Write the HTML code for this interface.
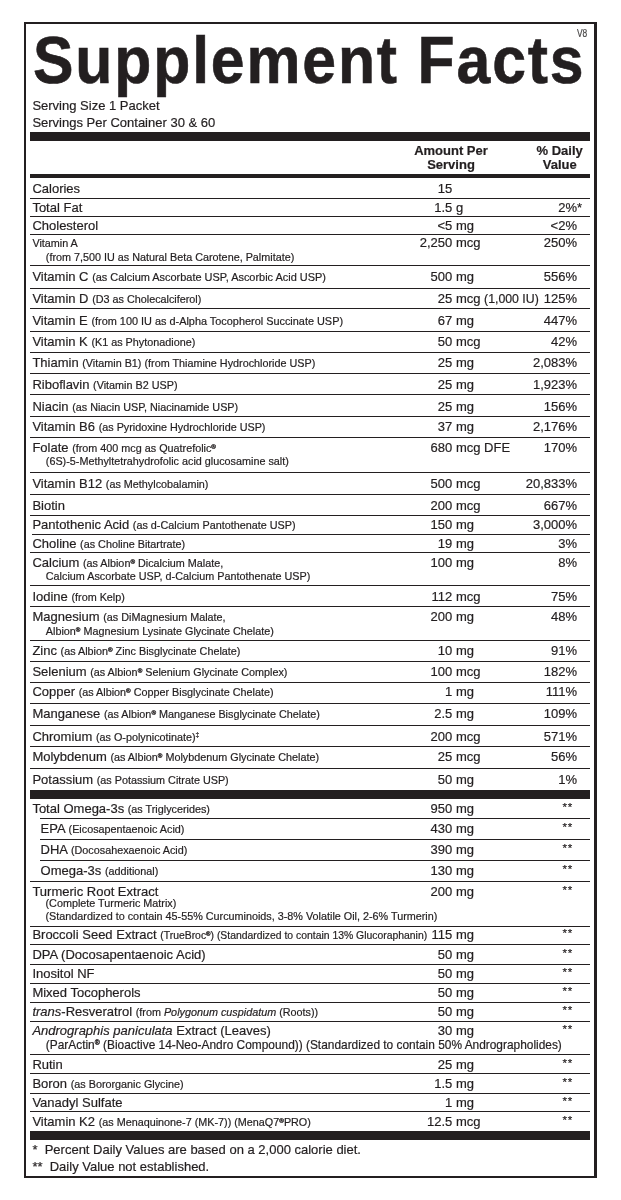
<!DOCTYPE html>
<html><head><meta charset="utf-8"><style>
html,body{margin:0;padding:0;background:#fff;width:621px;height:1200px;overflow:hidden;}
body{position:relative;font-family:"Liberation Sans",sans-serif;color:#231f20;}
.wrap{position:absolute;left:0;top:0;width:621px;height:1200px;will-change:transform;}
.t{position:absolute;white-space:nowrap;-webkit-text-stroke:0.2px #231f20;}
.r{position:absolute;}
.dg{font-size:62%;vertical-align:0;position:relative;top:-0.55em;line-height:0;}
.rg{font-size:58%;font-weight:bold;vertical-align:0;position:relative;top:-0.5em;line-height:0;-webkit-text-stroke:0.3px #231f20;}
.st{font-size:9px;position:relative;top:-3px;}
</style></head><body>
<div class="wrap">
<div class="r" style="left:23.5px;top:22px;width:573.5px;height:2px;background:#231f20"></div>
<div class="r" style="left:23.5px;top:22px;width:2.5px;height:1155.5px;background:#231f20"></div>
<div class="r" style="left:594px;top:22px;width:3px;height:1155.5px;background:#231f20"></div>
<div class="r" style="left:23.5px;top:1175.5px;width:573.5px;height:2.0px;background:#231f20"></div>
<div class="t" style="left:33.3px;top:27.12px;font-size:66px;line-height:66px;font-weight:bold;letter-spacing:2px;transform:scaleX(0.92);transform-origin:0 0;-webkit-text-stroke:0.6px #231f20;">Supplement Facts</div>
<div class="t" style="left:576.8px;top:28.11px;font-size:10.5px;line-height:10.5px;font-weight:normal;color:#555;transform:scaleX(0.8);transform-origin:0 0;">V8</div>
<div class="t" style="left:32.4px;top:99.49px;font-size:13px;line-height:13px;font-weight:normal;">Serving Size 1 Packet</div>
<div class="t" style="left:32.4px;top:115.99px;font-size:13px;line-height:13px;font-weight:normal;">Servings Per Container 30 &amp; 60</div>
<div class="r" style="left:30px;top:132px;width:560px;height:9px;background:#231f20"></div>
<div class="t" style="left:301px;width:300px;top:143.99px;font-size:13px;line-height:13px;font-weight:bold;text-align:center;">Amount Per</div>
<div class="t" style="left:301px;width:300px;top:157.79px;font-size:13px;line-height:13px;font-weight:bold;text-align:center;">Serving</div>
<div class="t" style="left:409.70000000000005px;width:300px;top:143.99px;font-size:13px;line-height:13px;font-weight:bold;text-align:center;">% Daily</div>
<div class="t" style="left:409.70000000000005px;width:300px;top:157.79px;font-size:13px;line-height:13px;font-weight:bold;text-align:center;">Value</div>
<div class="r" style="left:30px;top:174px;width:560px;height:4px;background:#231f20"></div>
<div class="t" style="left:32.4px;top:181.99px;font-size:13px;line-height:13px;font-weight:normal;">Calories</div>
<div class="t" style="right:168.70000000000005px;top:181.99px;font-size:13px;line-height:13px;font-weight:normal;text-align:right;">15</div>
<div class="r" style="left:30px;top:198px;width:560px;height:1px;background:#231f20"></div>
<div class="t" style="left:32.4px;top:200.99px;font-size:13px;line-height:13px;font-weight:normal;">Total Fat</div>
<div class="t" style="right:168.70000000000005px;top:200.99px;font-size:13px;line-height:13px;font-weight:normal;text-align:right;">1.5</div>
<div class="t" style="left:455.9px;top:200.99px;font-size:13px;line-height:13px;font-weight:normal;">g</div>
<div class="t" style="right:44px;top:200.99px;font-size:13px;line-height:13px;font-weight:normal;text-align:right;">2%<span style="position:absolute;left:100%;top:0">*</span></div>
<div class="r" style="left:30px;top:216px;width:560px;height:1px;background:#231f20"></div>
<div class="t" style="left:32.4px;top:218.99px;font-size:13px;line-height:13px;font-weight:normal;">Cholesterol</div>
<div class="t" style="right:168.70000000000005px;top:218.99px;font-size:13px;line-height:13px;font-weight:normal;text-align:right;">&lt;5</div>
<div class="t" style="left:455.9px;top:218.99px;font-size:13px;line-height:13px;font-weight:normal;">mg</div>
<div class="t" style="right:44px;top:218.99px;font-size:13px;line-height:13px;font-weight:normal;text-align:right;">&lt;2%</div>
<div class="r" style="left:30px;top:234px;width:560px;height:1px;background:#231f20"></div>
<div class="t" style="left:32.4px;top:238.36px;font-size:10.8px;line-height:10.8px;font-weight:normal;">Vitamin A</div>
<div class="t" style="left:45.8px;top:252.36px;font-size:10.8px;line-height:10.8px;font-weight:normal;">(from 7,500 IU as Natural Beta Carotene, Palmitate)</div>
<div class="t" style="right:168.70000000000005px;top:236.49px;font-size:13px;line-height:13px;font-weight:normal;text-align:right;">2,250</div>
<div class="t" style="left:455.9px;top:236.49px;font-size:13px;line-height:13px;font-weight:normal;">mcg</div>
<div class="t" style="right:44px;top:236.49px;font-size:13px;line-height:13px;font-weight:normal;text-align:right;">250%</div>
<div class="r" style="left:30px;top:265px;width:560px;height:1px;background:#231f20"></div>
<div class="t" style="left:32.4px;top:269.99px;font-size:13px;line-height:13px;font-weight:normal;">Vitamin C <span style="font-size:10.95px">(as Calcium Ascorbate USP, Ascorbic Acid USP)</span></div>
<div class="t" style="right:168.70000000000005px;top:269.99px;font-size:13px;line-height:13px;font-weight:normal;text-align:right;">500</div>
<div class="t" style="left:455.9px;top:269.99px;font-size:13px;line-height:13px;font-weight:normal;">mg</div>
<div class="t" style="right:44px;top:269.99px;font-size:13px;line-height:13px;font-weight:normal;text-align:right;">556%</div>
<div class="r" style="left:30px;top:288px;width:560px;height:1px;background:#231f20"></div>
<div class="t" style="left:32.4px;top:291.99px;font-size:13px;line-height:13px;font-weight:normal;">Vitamin D <span style="font-size:10.8px">(D3 as Cholecalciferol)</span></div>
<div class="t" style="right:168.70000000000005px;top:291.99px;font-size:13px;line-height:13px;font-weight:normal;text-align:right;">25</div>
<div class="t" style="left:455.9px;top:291.99px;font-size:13px;line-height:13px;font-weight:normal;">mcg <span style="font-size:12.3px">(1,000 IU)</span></div>
<div class="t" style="right:44px;top:291.99px;font-size:13px;line-height:13px;font-weight:normal;text-align:right;">125%</div>
<div class="r" style="left:30px;top:308px;width:560px;height:1px;background:#231f20"></div>
<div class="t" style="left:32.4px;top:313.99px;font-size:13px;line-height:13px;font-weight:normal;">Vitamin E <span style="font-size:10.9px">(from 100 IU as d-Alpha Tocopherol Succinate USP)</span></div>
<div class="t" style="right:168.70000000000005px;top:313.99px;font-size:13px;line-height:13px;font-weight:normal;text-align:right;">67</div>
<div class="t" style="left:455.9px;top:313.99px;font-size:13px;line-height:13px;font-weight:normal;">mg</div>
<div class="t" style="right:44px;top:313.99px;font-size:13px;line-height:13px;font-weight:normal;text-align:right;">447%</div>
<div class="r" style="left:30px;top:331px;width:560px;height:1px;background:#231f20"></div>
<div class="t" style="left:32.4px;top:334.99px;font-size:13px;line-height:13px;font-weight:normal;">Vitamin K <span style="font-size:10.8px">(K1 as Phytonadione)</span></div>
<div class="t" style="right:168.70000000000005px;top:334.99px;font-size:13px;line-height:13px;font-weight:normal;text-align:right;">50</div>
<div class="t" style="left:455.9px;top:334.99px;font-size:13px;line-height:13px;font-weight:normal;">mcg</div>
<div class="t" style="right:44px;top:334.99px;font-size:13px;line-height:13px;font-weight:normal;text-align:right;">42%</div>
<div class="r" style="left:30px;top:352px;width:560px;height:1px;background:#231f20"></div>
<div class="t" style="left:32.4px;top:355.99px;font-size:13px;line-height:13px;font-weight:normal;">Thiamin <span style="font-size:10.8px">(Vitamin B1) (from Thiamine Hydrochloride USP)</span></div>
<div class="t" style="right:168.70000000000005px;top:355.99px;font-size:13px;line-height:13px;font-weight:normal;text-align:right;">25</div>
<div class="t" style="left:455.9px;top:355.99px;font-size:13px;line-height:13px;font-weight:normal;">mg</div>
<div class="t" style="right:44px;top:355.99px;font-size:13px;line-height:13px;font-weight:normal;text-align:right;">2,083%</div>
<div class="r" style="left:30px;top:373px;width:560px;height:1px;background:#231f20"></div>
<div class="t" style="left:32.4px;top:377.99px;font-size:13px;line-height:13px;font-weight:normal;">Riboflavin <span style="font-size:10.8px">(Vitamin B2 USP)</span></div>
<div class="t" style="right:168.70000000000005px;top:377.99px;font-size:13px;line-height:13px;font-weight:normal;text-align:right;">25</div>
<div class="t" style="left:455.9px;top:377.99px;font-size:13px;line-height:13px;font-weight:normal;">mg</div>
<div class="t" style="right:44px;top:377.99px;font-size:13px;line-height:13px;font-weight:normal;text-align:right;">1,923%</div>
<div class="r" style="left:30px;top:394px;width:560px;height:1px;background:#231f20"></div>
<div class="t" style="left:32.4px;top:399.99px;font-size:13px;line-height:13px;font-weight:normal;">Niacin <span style="font-size:10.8px">(as Niacin USP, Niacinamide USP)</span></div>
<div class="t" style="right:168.70000000000005px;top:399.99px;font-size:13px;line-height:13px;font-weight:normal;text-align:right;">25</div>
<div class="t" style="left:455.9px;top:399.99px;font-size:13px;line-height:13px;font-weight:normal;">mg</div>
<div class="t" style="right:44px;top:399.99px;font-size:13px;line-height:13px;font-weight:normal;text-align:right;">156%</div>
<div class="r" style="left:30px;top:416px;width:560px;height:1px;background:#231f20"></div>
<div class="t" style="left:32.4px;top:419.99px;font-size:13px;line-height:13px;font-weight:normal;">Vitamin B6 <span style="font-size:10.8px">(as Pyridoxine Hydrochloride USP)</span></div>
<div class="t" style="right:168.70000000000005px;top:419.99px;font-size:13px;line-height:13px;font-weight:normal;text-align:right;">37</div>
<div class="t" style="left:455.9px;top:419.99px;font-size:13px;line-height:13px;font-weight:normal;">mg</div>
<div class="t" style="right:44px;top:419.99px;font-size:13px;line-height:13px;font-weight:normal;text-align:right;">2,176%</div>
<div class="r" style="left:30px;top:437px;width:560px;height:1px;background:#231f20"></div>
<div class="t" style="left:32.4px;top:440.99px;font-size:13px;line-height:13px;font-weight:normal;">Folate <span style="font-size:10.8px">(from 400 mcg as Quatrefolic<sup class="rg">&reg;</sup></span></div>
<div class="t" style="left:45.8px;top:455.86px;font-size:10.8px;line-height:10.8px;font-weight:normal;">(6S)-5-Methyltetrahydrofolic acid glucosamine salt)</div>
<div class="t" style="right:168.70000000000005px;top:440.99px;font-size:13px;line-height:13px;font-weight:normal;text-align:right;">680</div>
<div class="t" style="left:455.9px;top:440.99px;font-size:13px;line-height:13px;font-weight:normal;">mcg DFE</div>
<div class="t" style="right:44px;top:440.99px;font-size:13px;line-height:13px;font-weight:normal;text-align:right;">170%</div>
<div class="r" style="left:30px;top:472px;width:560px;height:1px;background:#231f20"></div>
<div class="t" style="left:32.4px;top:476.99px;font-size:13px;line-height:13px;font-weight:normal;">Vitamin B12 <span style="font-size:10.8px">(as Methylcobalamin)</span></div>
<div class="t" style="right:168.70000000000005px;top:476.99px;font-size:13px;line-height:13px;font-weight:normal;text-align:right;">500</div>
<div class="t" style="left:455.9px;top:476.99px;font-size:13px;line-height:13px;font-weight:normal;">mcg</div>
<div class="t" style="right:44px;top:476.99px;font-size:13px;line-height:13px;font-weight:normal;text-align:right;">20,833%</div>
<div class="r" style="left:30px;top:494px;width:560px;height:1px;background:#231f20"></div>
<div class="t" style="left:32.4px;top:498.99px;font-size:13px;line-height:13px;font-weight:normal;">Biotin</div>
<div class="t" style="right:168.70000000000005px;top:498.99px;font-size:13px;line-height:13px;font-weight:normal;text-align:right;">200</div>
<div class="t" style="left:455.9px;top:498.99px;font-size:13px;line-height:13px;font-weight:normal;">mcg</div>
<div class="t" style="right:44px;top:498.99px;font-size:13px;line-height:13px;font-weight:normal;text-align:right;">667%</div>
<div class="r" style="left:30px;top:515px;width:560px;height:1px;background:#231f20"></div>
<div class="t" style="left:32.4px;top:517.99px;font-size:13px;line-height:13px;font-weight:normal;">Pantothenic Acid <span style="font-size:10.8px">(as d-Calcium Pantothenate USP)</span></div>
<div class="t" style="right:168.70000000000005px;top:517.99px;font-size:13px;line-height:13px;font-weight:normal;text-align:right;">150</div>
<div class="t" style="left:455.9px;top:517.99px;font-size:13px;line-height:13px;font-weight:normal;">mg</div>
<div class="t" style="right:44px;top:517.99px;font-size:13px;line-height:13px;font-weight:normal;text-align:right;">3,000%</div>
<div class="r" style="left:32px;top:534px;width:558px;height:1px;background:#231f20"></div>
<div class="t" style="left:32.4px;top:536.99px;font-size:13px;line-height:13px;font-weight:normal;">Choline <span style="font-size:10.8px">(as Choline Bitartrate)</span></div>
<div class="t" style="right:168.70000000000005px;top:536.99px;font-size:13px;line-height:13px;font-weight:normal;text-align:right;">19</div>
<div class="t" style="left:455.9px;top:536.99px;font-size:13px;line-height:13px;font-weight:normal;">mg</div>
<div class="t" style="right:44px;top:536.99px;font-size:13px;line-height:13px;font-weight:normal;text-align:right;">3%</div>
<div class="r" style="left:30px;top:552px;width:560px;height:1px;background:#231f20"></div>
<div class="t" style="left:32.4px;top:555.99px;font-size:13px;line-height:13px;font-weight:normal;">Calcium <span style="font-size:10.8px">(as Albion<sup class="rg">&reg;</sup> Dicalcium Malate,</span></div>
<div class="t" style="left:45.8px;top:570.86px;font-size:10.8px;line-height:10.8px;font-weight:normal;">Calcium Ascorbate USP, d-Calcium Pantothenate USP)</div>
<div class="t" style="right:168.70000000000005px;top:555.99px;font-size:13px;line-height:13px;font-weight:normal;text-align:right;">100</div>
<div class="t" style="left:455.9px;top:555.99px;font-size:13px;line-height:13px;font-weight:normal;">mg</div>
<div class="t" style="right:44px;top:555.99px;font-size:13px;line-height:13px;font-weight:normal;text-align:right;">8%</div>
<div class="r" style="left:30px;top:585px;width:560px;height:1px;background:#231f20"></div>
<div class="t" style="left:32.4px;top:589.99px;font-size:13px;line-height:13px;font-weight:normal;">Iodine <span style="font-size:10.8px">(from Kelp)</span></div>
<div class="t" style="right:168.70000000000005px;top:589.99px;font-size:13px;line-height:13px;font-weight:normal;text-align:right;">112</div>
<div class="t" style="left:455.9px;top:589.99px;font-size:13px;line-height:13px;font-weight:normal;">mcg</div>
<div class="t" style="right:44px;top:589.99px;font-size:13px;line-height:13px;font-weight:normal;text-align:right;">75%</div>
<div class="r" style="left:30px;top:606px;width:560px;height:1px;background:#231f20"></div>
<div class="t" style="left:32.4px;top:609.99px;font-size:13px;line-height:13px;font-weight:normal;">Magnesium <span style="font-size:10.8px">(as DiMagnesium Malate,</span></div>
<div class="t" style="left:45.8px;top:625.86px;font-size:10.8px;line-height:10.8px;font-weight:normal;">Albion<sup class="rg">&reg;</sup> Magnesium Lysinate Glycinate Chelate)</div>
<div class="t" style="right:168.70000000000005px;top:609.99px;font-size:13px;line-height:13px;font-weight:normal;text-align:right;">200</div>
<div class="t" style="left:455.9px;top:609.99px;font-size:13px;line-height:13px;font-weight:normal;">mg</div>
<div class="t" style="right:44px;top:609.99px;font-size:13px;line-height:13px;font-weight:normal;text-align:right;">48%</div>
<div class="r" style="left:30px;top:640px;width:560px;height:1px;background:#231f20"></div>
<div class="t" style="left:32.4px;top:643.99px;font-size:13px;line-height:13px;font-weight:normal;">Zinc <span style="font-size:10.8px">(as Albion<sup class="rg">&reg;</sup> Zinc Bisglycinate Chelate)</span></div>
<div class="t" style="right:168.70000000000005px;top:643.99px;font-size:13px;line-height:13px;font-weight:normal;text-align:right;">10</div>
<div class="t" style="left:455.9px;top:643.99px;font-size:13px;line-height:13px;font-weight:normal;">mg</div>
<div class="t" style="right:44px;top:643.99px;font-size:13px;line-height:13px;font-weight:normal;text-align:right;">91%</div>
<div class="r" style="left:30px;top:661px;width:560px;height:1px;background:#231f20"></div>
<div class="t" style="left:32.4px;top:664.99px;font-size:13px;line-height:13px;font-weight:normal;">Selenium <span style="font-size:10.8px">(as Albion<sup class="rg">&reg;</sup> Selenium Glycinate Complex)</span></div>
<div class="t" style="right:168.70000000000005px;top:664.99px;font-size:13px;line-height:13px;font-weight:normal;text-align:right;">100</div>
<div class="t" style="left:455.9px;top:664.99px;font-size:13px;line-height:13px;font-weight:normal;">mcg</div>
<div class="t" style="right:44px;top:664.99px;font-size:13px;line-height:13px;font-weight:normal;text-align:right;">182%</div>
<div class="r" style="left:30px;top:682px;width:560px;height:1px;background:#231f20"></div>
<div class="t" style="left:32.4px;top:684.99px;font-size:13px;line-height:13px;font-weight:normal;">Copper <span style="font-size:10.8px">(as Albion<sup class="rg">&reg;</sup> Copper Bisglycinate Chelate)</span></div>
<div class="t" style="right:168.70000000000005px;top:684.99px;font-size:13px;line-height:13px;font-weight:normal;text-align:right;">1</div>
<div class="t" style="left:455.9px;top:684.99px;font-size:13px;line-height:13px;font-weight:normal;">mg</div>
<div class="t" style="right:44px;top:684.99px;font-size:13px;line-height:13px;font-weight:normal;text-align:right;">111%</div>
<div class="r" style="left:30px;top:703px;width:560px;height:1px;background:#231f20"></div>
<div class="t" style="left:32.4px;top:706.99px;font-size:13px;line-height:13px;font-weight:normal;">Manganese <span style="font-size:10.8px">(as Albion<sup class="rg">&reg;</sup> Manganese Bisglycinate Chelate)</span></div>
<div class="t" style="right:168.70000000000005px;top:706.99px;font-size:13px;line-height:13px;font-weight:normal;text-align:right;">2.5</div>
<div class="t" style="left:455.9px;top:706.99px;font-size:13px;line-height:13px;font-weight:normal;">mg</div>
<div class="t" style="right:44px;top:706.99px;font-size:13px;line-height:13px;font-weight:normal;text-align:right;">109%</div>
<div class="r" style="left:30px;top:725px;width:560px;height:1px;background:#231f20"></div>
<div class="t" style="left:32.4px;top:729.99px;font-size:13px;line-height:13px;font-weight:normal;">Chromium <span style="font-size:10.8px">(as O-polynicotinate)<sup class="dg">&Dagger;</sup></span></div>
<div class="t" style="right:168.70000000000005px;top:729.99px;font-size:13px;line-height:13px;font-weight:normal;text-align:right;">200</div>
<div class="t" style="left:455.9px;top:729.99px;font-size:13px;line-height:13px;font-weight:normal;">mcg</div>
<div class="t" style="right:44px;top:729.99px;font-size:13px;line-height:13px;font-weight:normal;text-align:right;">571%</div>
<div class="r" style="left:30px;top:746px;width:560px;height:1px;background:#231f20"></div>
<div class="t" style="left:32.4px;top:749.99px;font-size:13px;line-height:13px;font-weight:normal;">Molybdenum <span style="font-size:10.8px">(as Albion<sup class="rg">&reg;</sup> Molybdenum Glycinate Chelate)</span></div>
<div class="t" style="right:168.70000000000005px;top:749.99px;font-size:13px;line-height:13px;font-weight:normal;text-align:right;">25</div>
<div class="t" style="left:455.9px;top:749.99px;font-size:13px;line-height:13px;font-weight:normal;">mcg</div>
<div class="t" style="right:44px;top:749.99px;font-size:13px;line-height:13px;font-weight:normal;text-align:right;">56%</div>
<div class="r" style="left:30px;top:768px;width:560px;height:1px;background:#231f20"></div>
<div class="t" style="left:32.4px;top:772.99px;font-size:13px;line-height:13px;font-weight:normal;">Potassium <span style="font-size:10.8px">(as Potassium Citrate USP)</span></div>
<div class="t" style="right:168.70000000000005px;top:772.99px;font-size:13px;line-height:13px;font-weight:normal;text-align:right;">50</div>
<div class="t" style="left:455.9px;top:772.99px;font-size:13px;line-height:13px;font-weight:normal;">mg</div>
<div class="t" style="right:44px;top:772.99px;font-size:13px;line-height:13px;font-weight:normal;text-align:right;">1%</div>
<div class="r" style="left:30px;top:790px;width:560px;height:9px;background:#231f20"></div>
<div class="t" style="left:32.4px;top:801.99px;font-size:13px;line-height:13px;font-weight:normal;">Total Omega-3s <span style="font-size:10.8px">(as Triglycerides)</span></div>
<div class="t" style="right:168.70000000000005px;top:801.99px;font-size:13px;line-height:13px;font-weight:normal;text-align:right;">950</div>
<div class="t" style="left:455.9px;top:801.99px;font-size:13px;line-height:13px;font-weight:normal;">mg</div>
<div class="t" style="right:48px;top:801.76px;font-size:11.5px;line-height:11.5px;font-weight:normal;text-align:right;letter-spacing:0.8px;">**</div>
<div class="r" style="left:40px;top:818px;width:550px;height:1px;background:#231f20"></div>
<div class="t" style="left:40.6px;top:821.99px;font-size:13px;line-height:13px;font-weight:normal;">EPA <span style="font-size:10.8px">(Eicosapentaenoic Acid)</span></div>
<div class="t" style="right:168.70000000000005px;top:821.99px;font-size:13px;line-height:13px;font-weight:normal;text-align:right;">430</div>
<div class="t" style="left:455.9px;top:821.99px;font-size:13px;line-height:13px;font-weight:normal;">mg</div>
<div class="t" style="right:48px;top:821.76px;font-size:11.5px;line-height:11.5px;font-weight:normal;text-align:right;letter-spacing:0.8px;">**</div>
<div class="r" style="left:40px;top:839px;width:550px;height:1px;background:#231f20"></div>
<div class="t" style="left:40.6px;top:842.99px;font-size:13px;line-height:13px;font-weight:normal;">DHA <span style="font-size:10.8px">(Docosahexaenoic Acid)</span></div>
<div class="t" style="right:168.70000000000005px;top:842.99px;font-size:13px;line-height:13px;font-weight:normal;text-align:right;">390</div>
<div class="t" style="left:455.9px;top:842.99px;font-size:13px;line-height:13px;font-weight:normal;">mg</div>
<div class="t" style="right:48px;top:842.76px;font-size:11.5px;line-height:11.5px;font-weight:normal;text-align:right;letter-spacing:0.8px;">**</div>
<div class="r" style="left:40px;top:860px;width:550px;height:1px;background:#231f20"></div>
<div class="t" style="left:40.6px;top:863.99px;font-size:13px;line-height:13px;font-weight:normal;">Omega-3s <span style="font-size:10.8px">(additional)</span></div>
<div class="t" style="right:168.70000000000005px;top:863.99px;font-size:13px;line-height:13px;font-weight:normal;text-align:right;">130</div>
<div class="t" style="left:455.9px;top:863.99px;font-size:13px;line-height:13px;font-weight:normal;">mg</div>
<div class="t" style="right:48px;top:863.76px;font-size:11.5px;line-height:11.5px;font-weight:normal;text-align:right;letter-spacing:0.8px;">**</div>
<div class="r" style="left:30px;top:881px;width:560px;height:1px;background:#231f20"></div>
<div class="t" style="left:32.4px;top:884.99px;font-size:13px;line-height:13px;font-weight:normal;">Turmeric Root Extract</div>
<div class="t" style="left:45.5px;top:897.86px;font-size:10.8px;line-height:10.8px;font-weight:normal;">(Complete Turmeric Matrix)</div>
<div class="t" style="left:45.5px;top:910.86px;font-size:10.8px;line-height:10.8px;font-weight:normal;">(Standardized to contain 45-55% Curcuminoids, 3-8% Volatile Oil, 2-6% Turmerin)</div>
<div class="t" style="right:168.70000000000005px;top:884.99px;font-size:13px;line-height:13px;font-weight:normal;text-align:right;">200</div>
<div class="t" style="left:455.9px;top:884.99px;font-size:13px;line-height:13px;font-weight:normal;">mg</div>
<div class="t" style="right:48px;top:884.76px;font-size:11.5px;line-height:11.5px;font-weight:normal;text-align:right;letter-spacing:0.8px;">**</div>
<div class="r" style="left:30px;top:926px;width:560px;height:1px;background:#231f20"></div>
<div class="t" style="left:32.4px;top:927.99px;font-size:13px;line-height:13px;font-weight:normal;">Broccoli Seed Extract <span style="font-size:10.4px">(TrueBroc<sup class="rg">&reg;</sup>) (Standardized to contain 13% Glucoraphanin)</span></div>
<div class="t" style="right:168.70000000000005px;top:927.99px;font-size:13px;line-height:13px;font-weight:normal;text-align:right;">115</div>
<div class="t" style="left:455.9px;top:927.99px;font-size:13px;line-height:13px;font-weight:normal;">mg</div>
<div class="t" style="right:48px;top:927.76px;font-size:11.5px;line-height:11.5px;font-weight:normal;text-align:right;letter-spacing:0.8px;">**</div>
<div class="r" style="left:30px;top:944px;width:560px;height:1px;background:#231f20"></div>
<div class="t" style="left:32.4px;top:947.99px;font-size:13px;line-height:13px;font-weight:normal;">DPA (Docosapentaenoic Acid)</div>
<div class="t" style="right:168.70000000000005px;top:947.99px;font-size:13px;line-height:13px;font-weight:normal;text-align:right;">50</div>
<div class="t" style="left:455.9px;top:947.99px;font-size:13px;line-height:13px;font-weight:normal;">mg</div>
<div class="t" style="right:48px;top:947.76px;font-size:11.5px;line-height:11.5px;font-weight:normal;text-align:right;letter-spacing:0.8px;">**</div>
<div class="r" style="left:30px;top:964px;width:560px;height:1px;background:#231f20"></div>
<div class="t" style="left:32.4px;top:966.99px;font-size:13px;line-height:13px;font-weight:normal;">Inositol NF</div>
<div class="t" style="right:168.70000000000005px;top:966.99px;font-size:13px;line-height:13px;font-weight:normal;text-align:right;">50</div>
<div class="t" style="left:455.9px;top:966.99px;font-size:13px;line-height:13px;font-weight:normal;">mg</div>
<div class="t" style="right:48px;top:966.76px;font-size:11.5px;line-height:11.5px;font-weight:normal;text-align:right;letter-spacing:0.8px;">**</div>
<div class="r" style="left:30px;top:983px;width:560px;height:1px;background:#231f20"></div>
<div class="t" style="left:32.4px;top:985.99px;font-size:13px;line-height:13px;font-weight:normal;">Mixed Tocopherols</div>
<div class="t" style="right:168.70000000000005px;top:985.99px;font-size:13px;line-height:13px;font-weight:normal;text-align:right;">50</div>
<div class="t" style="left:455.9px;top:985.99px;font-size:13px;line-height:13px;font-weight:normal;">mg</div>
<div class="t" style="right:48px;top:985.76px;font-size:11.5px;line-height:11.5px;font-weight:normal;text-align:right;letter-spacing:0.8px;">**</div>
<div class="r" style="left:30px;top:1002px;width:560px;height:1px;background:#231f20"></div>
<div class="t" style="left:32.4px;top:1004.99px;font-size:13px;line-height:13px;font-weight:normal;"><i>trans</i>-Resveratrol <span style="font-size:10.8px">(from <i>Polygonum cuspidatum</i> (Roots))</span></div>
<div class="t" style="right:168.70000000000005px;top:1004.99px;font-size:13px;line-height:13px;font-weight:normal;text-align:right;">50</div>
<div class="t" style="left:455.9px;top:1004.99px;font-size:13px;line-height:13px;font-weight:normal;">mg</div>
<div class="t" style="right:48px;top:1004.76px;font-size:11.5px;line-height:11.5px;font-weight:normal;text-align:right;letter-spacing:0.8px;">**</div>
<div class="r" style="left:30px;top:1021px;width:560px;height:1px;background:#231f20"></div>
<div class="t" style="left:32.4px;top:1023.99px;font-size:13px;line-height:13px;font-weight:normal;"><i>Andrographis paniculata</i> Extract (Leaves)</div>
<div class="t" style="right:168.70000000000005px;top:1023.99px;font-size:13px;line-height:13px;font-weight:normal;text-align:right;">30</div>
<div class="t" style="left:455.9px;top:1023.99px;font-size:13px;line-height:13px;font-weight:normal;">mg</div>
<div class="t" style="right:48px;top:1023.76px;font-size:11.5px;line-height:11.5px;font-weight:normal;text-align:right;letter-spacing:0.8px;">**</div>
<div class="r" style="left:30px;top:1054px;width:560px;height:1px;background:#231f20"></div>
<div class="t" style="left:45.8px;top:1039.92px;font-size:11.9px;line-height:11.9px;font-weight:normal;">(ParActin<sup class="rg">&reg;</sup> (Bioactive 14-Neo-Andro Compound)) (Standardized to contain 50% Andrographolides)</div>
<div class="t" style="left:32.4px;top:1057.99px;font-size:13px;line-height:13px;font-weight:normal;">Rutin</div>
<div class="t" style="right:168.70000000000005px;top:1057.99px;font-size:13px;line-height:13px;font-weight:normal;text-align:right;">25</div>
<div class="t" style="left:455.9px;top:1057.99px;font-size:13px;line-height:13px;font-weight:normal;">mg</div>
<div class="t" style="right:48px;top:1057.76px;font-size:11.5px;line-height:11.5px;font-weight:normal;text-align:right;letter-spacing:0.8px;">**</div>
<div class="r" style="left:30px;top:1073px;width:560px;height:1px;background:#231f20"></div>
<div class="t" style="left:32.4px;top:1076.99px;font-size:13px;line-height:13px;font-weight:normal;">Boron <span style="font-size:10.8px">(as Bororganic Glycine)</span></div>
<div class="t" style="right:168.70000000000005px;top:1076.99px;font-size:13px;line-height:13px;font-weight:normal;text-align:right;">1.5</div>
<div class="t" style="left:455.9px;top:1076.99px;font-size:13px;line-height:13px;font-weight:normal;">mg</div>
<div class="t" style="right:48px;top:1076.76px;font-size:11.5px;line-height:11.5px;font-weight:normal;text-align:right;letter-spacing:0.8px;">**</div>
<div class="r" style="left:30px;top:1093px;width:560px;height:1px;background:#231f20"></div>
<div class="t" style="left:32.4px;top:1095.99px;font-size:13px;line-height:13px;font-weight:normal;">Vanadyl Sulfate</div>
<div class="t" style="right:168.70000000000005px;top:1095.99px;font-size:13px;line-height:13px;font-weight:normal;text-align:right;">1</div>
<div class="t" style="left:455.9px;top:1095.99px;font-size:13px;line-height:13px;font-weight:normal;">mg</div>
<div class="t" style="right:48px;top:1095.76px;font-size:11.5px;line-height:11.5px;font-weight:normal;text-align:right;letter-spacing:0.8px;">**</div>
<div class="r" style="left:30px;top:1111px;width:560px;height:1px;background:#231f20"></div>
<div class="t" style="left:32.4px;top:1114.99px;font-size:13px;line-height:13px;font-weight:normal;">Vitamin K2 <span style="font-size:10.8px">(as Menaquinone-7 (MK-7)) (MenaQ7<sup class="rg">&reg;</sup>PRO)</span></div>
<div class="t" style="right:168.70000000000005px;top:1114.99px;font-size:13px;line-height:13px;font-weight:normal;text-align:right;">12.5</div>
<div class="t" style="left:455.9px;top:1114.99px;font-size:13px;line-height:13px;font-weight:normal;">mcg</div>
<div class="t" style="right:48px;top:1114.76px;font-size:11.5px;line-height:11.5px;font-weight:normal;text-align:right;letter-spacing:0.8px;">**</div>
<div class="r" style="left:30px;top:1131px;width:560px;height:9px;background:#231f20"></div>
<div class="t" style="left:32.4px;top:1142.99px;font-size:13px;line-height:13px;font-weight:normal;">*&nbsp; Percent Daily Values are based on a 2,000 calorie diet.</div>
<div class="t" style="left:32.4px;top:1159.99px;font-size:13px;line-height:13px;font-weight:normal;">**&nbsp; Daily Value not established.</div>
</div>
</body></html>
